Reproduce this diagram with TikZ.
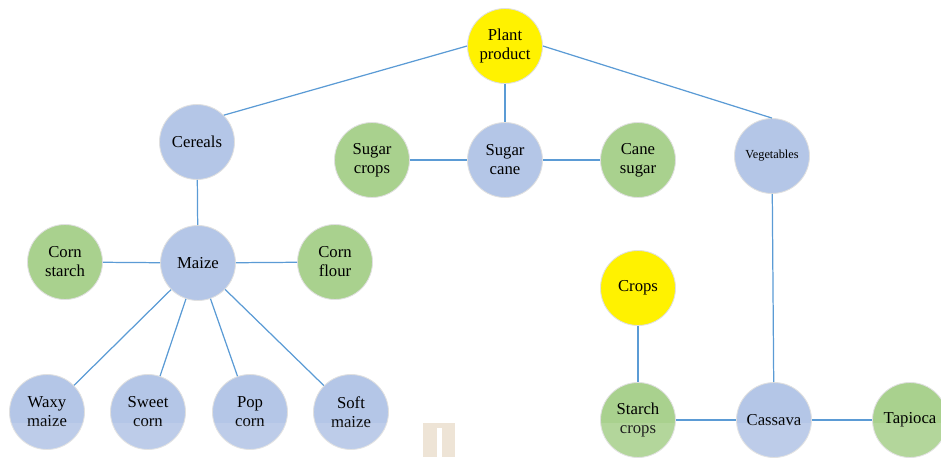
\documentclass[tikz,border=0pt]{standalone}
\usepackage{fontspec}
\setmainfont{Liberation Serif}
\definecolor{corazul}{RGB}{180,198,231}
\definecolor{corverde}{RGB}{169,209,142}
\definecolor{corlinha}{RGB}{91,155,213}
\definecolor{bege}{RGB}{238,228,214}
\begin{document}
\begin{tikzpicture}[x=0.02cm, y=-0.02cm,
  every node/.style={circle, minimum size=1.5cm, inner sep=0pt, align=center,
    font=\fontsize{9.5}{10.8}\selectfont, draw=black!12, line width=0.5pt}
]
\tikzset{
  azul/.style={fill=corazul},
  verde/.style={fill=corverde},
  amarelo/.style={fill=yellow},
  linha/.style={draw=corlinha, line width=0.7pt}
}
\useasboundingbox (0,0) rectangle (941,457);

% raiz e primeiro nivel
\node[amarelo] (plant) at (505,46) {Plant\\product};
\node[azul] (cereals) at (197,142) {Cereals};
\node[verde] (sugarcrops) at (372,160) {Sugar\\crops};
\node[azul] (sugarcane) at (505,160) {Sugar\\cane};
\node[verde] (canesugar) at (638,160) {Cane\\sugar};
\node[azul, font=\fontsize{7}{8}\selectfont] (veg) at (772,156) {Vegetables};

% milho
\node[verde] (cornstarch) at (65,262) {Corn\\starch};
\node[azul] (maize) at (198,263) {Maize};
\node[verde] (cornflour) at (335,262) {Corn\\flour};
\node[azul] (waxy) at (47,412) {Waxy\\maize};
\node[azul] (sweet) at (148,412) {Sweet\\corn};
\node[azul] (pop) at (250,412) {Pop\\corn};
\node[azul] (soft) at (351,412) {Soft\\maize};

% mandioca
\node[amarelo] (crops) at (638,288) {Crops};
\node[verde] (starch) at (638,420) {Starch\\crops};
\node[azul] (cassava) at (774,420) {Cassava};
\node[verde] (tapioca) at (910,420) {Tapioca};

\draw[linha] (plant.west) -- (cereals.north east);
\draw[linha] (plant) -- (sugarcane);
\draw[linha] (plant.east) -- (veg.north);
\draw[linha] (sugarcrops) -- (sugarcane) -- (canesugar);
\draw[linha] (cereals) -- (maize);
\draw[linha] (maize) -- (cornstarch);
\draw[linha] (maize) -- (cornflour);
\foreach \n in {waxy, sweet, pop, soft}
  \draw[linha] (maize) -- (\n);
\draw[linha] (veg) -- (cassava);
\draw[linha] (crops) -- (starch);
\draw[linha] (starch) -- (cassava) -- (tapioca);

% faixa clara no rodape
\fill[white, opacity=0.12] (0,423) rectangle (941,457);
\fill[bege] (423,423) rectangle (455,457);
\fill[white] (437,428) rectangle (442,457);
\end{tikzpicture}
\end{document}
